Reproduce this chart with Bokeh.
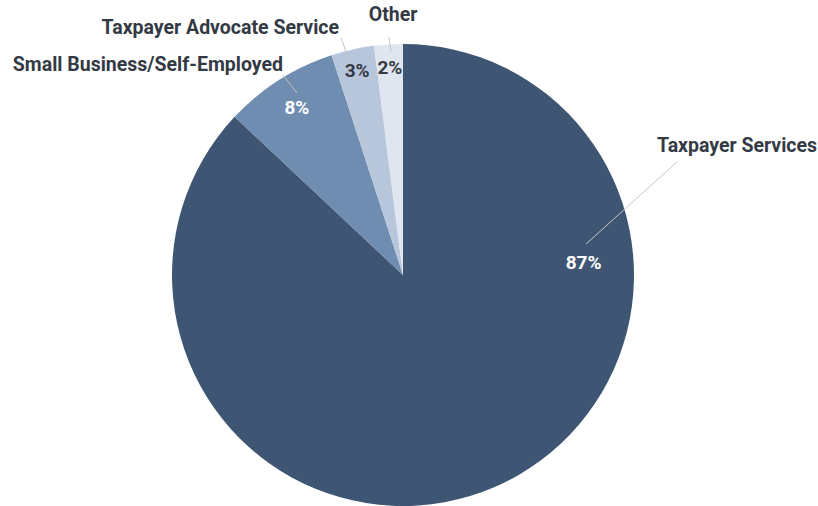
import math
from bokeh.plotting import figure
from bokeh.models import Range1d, ColumnDataSource
from bokeh.core.properties import value
from bokeh.embed import file_html
from bokeh.resources import INLINE

categories = ["Taxpayer Services", "Small Business/Self-Employed", "Taxpayer Advocate Service", "Other"]
shares = [87, 8, 3, 2]
pct_labels = ["87%", "8%", "3%", "2%"]
colors = ["#3e5673", "#6f8cb1", "#b7c6da", "#e0e6ef"]

W, H = 818, 506
CX, CY, R = 402.5, 506 - 274.5, 231

p = figure(width=W, height=H, output_backend="svg", toolbar_location=None,
           x_range=Range1d(0, W), y_range=Range1d(0, H), min_border=0)
p.axis.visible = False
p.grid.visible = False
p.outline_line_color = None
p.background_fill_color = "white"

total = sum(shares)
starts, ends, mids = [], [], []
acc = 0
for s in shares:
    a0 = acc / total * 2 * math.pi
    acc += s
    a1 = acc / total * 2 * math.pi
    starts.append(math.pi / 2 - a0)
    ends.append(math.pi / 2 - a1)
    mids.append((a0 + a1) / 2)

src = ColumnDataSource(dict(start=starts, end=ends, color=colors))
p.wedge(x=CX, y=CY, radius=R, start_angle="start", end_angle="end", direction="clock",
        fill_color="color", line_color=None, source=src)

def pt(theta, r):
    # theta clockwise from top
    return CX + r * math.sin(theta), CY + r * math.cos(theta)

FONT = value("Roboto")
TXT = "#333a44"

# percent labels: (angle override in degrees or None, radius)
pct_pos = [(86.0, 181), (None, 198), (None, 210), (None, 208)]
pct_col = ["white", "white", TXT, TXT]
for i, lab in enumerate(pct_labels):
    ang, rr = pct_pos[i]
    th = math.radians(ang) if ang is not None else mids[i]
    x, y = pt(th, rr)
    p.text(x=[x], y=[y], text=[lab], text_align="center", text_baseline="middle",
           text_font=FONT, text_font_style="bold", text_font_size="19px",
           text_color=pct_col[i])

# leader lines and category labels (positions relative to center)
leaders = [((183, 31), (274, 113)), ((-106, 182), (-120, 200)),
           ((-54, 215), (-62, 237)), ((-12, 223), (-14, 238))]
label_anchor = [((254, 130), "left"), ((-120, 211), "right"),
                ((-64, 248), "right"), ((-10, 261), "center")]
for i, cat in enumerate(categories):
    (a, b), (c, d) = leaders[i]
    p.line(x=[CX + a, CX + c], y=[CY + b, CY + d], line_color="#c4c4c4", line_width=1)
    (lx, ly), al = label_anchor[i]
    p.text(x=[CX + lx], y=[CY + ly], text=[cat], text_align=al, text_baseline="middle",
           text_font=FONT, text_font_style="bold", text_font_size="19.5px",
           text_color=TXT)

open("out.html", "w").write(file_html(p, INLINE))
